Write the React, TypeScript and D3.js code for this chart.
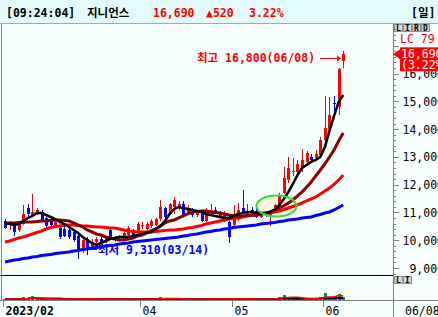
import React from "react";
import * as d3 from "d3";

// ---- data ----
const dates = [
  "02/17","02/20","02/21","02/22","02/23","02/24","02/27","02/28",
  "03/02","03/03","03/06","03/07","03/08","03/09","03/10","03/13","03/14","03/15","03/16","03/17",
  "03/20","03/21","03/22","03/23","03/24","03/27","03/28","03/29","03/30","03/31",
  "04/03","04/04","04/05","04/06","04/07","04/10","04/11","04/12","04/13","04/14",
  "04/17","04/18","04/19","04/20","04/21","04/24","04/25","04/26","04/27","04/28",
  "05/02","05/03","05/04","05/08","05/09","05/10","05/11","05/12","05/15","05/16",
  "05/17","05/18","05/19","05/22","05/23","05/24","05/25","05/26","05/30","05/31",
  "06/01","06/02","06/05","06/07","06/08",
];
const opens = [
  10700,10550,10600,10350,10600,11150,10900,10950,11000,10800,
  10700,10550,10450,10400,10350,10300,10150,9600,10050,9700,
  9950,10050,9950,10350,10050,10100,10050,10200,10350,10300,
  10500,10400,10500,10550,10750,11150,10950,11200,11150,11300,
  10950,11100,10900,11050,10700,10950,11100,10850,10700,10650,
  10550,10750,11150,10950,11100,11050,10850,10950,10900,11100,
  11200,11700,12150,12450,12450,12600,12800,13000,12950,13050,
  13600,14000,14950,14800,16450,
];
const highs = [
  10750,10700,10650,10650,11250,11300,11650,11150,11100,10850,
  10800,10700,10550,10500,10450,10350,10250,10050,10100,10050,
  10100,10150,10150,10400,10150,10200,10300,10500,10400,10650,
  10650,10650,10750,10800,11450,11200,11350,11550,11400,11400,
  11250,11150,11050,11100,11150,11300,11200,11050,11050,10700,
  11250,11350,11800,11300,11200,11150,11000,11050,11100,11300,
  11700,12650,13000,12950,12900,13300,13200,13100,13250,13700,
  15200,15150,15200,16200,16800,
];
const lows = [
  10400,10350,10150,10300,10550,10850,10850,10900,10650,10450,
  10500,10450,10050,10100,10050,9950,9310,9550,9450,9650,
  9900,9900,9900,10050,9950,10000,10000,10150,10150,10250,
  10400,10350,10450,10500,10700,10800,10900,10950,11100,10850,
  10900,10850,10850,10650,10650,10900,10950,10800,10650,9900,
  10450,10700,10950,10900,10850,10800,10800,10850,10500,11000,
  11100,11650,12050,12300,12350,12450,12700,12850,12850,12950,
  13500,13900,14550,14500,16200,
];
const closes = [
  10450,10650,10300,10600,10950,10950,11000,11100,10700,10500,
  10550,10650,10100,10150,10100,10000,9650,10000,9700,9950,
  10050,9950,10100,10100,10100,10150,10250,10450,10200,10600,
  10550,10600,10700,10750,11200,10850,11300,11450,11300,10900,
  11150,10900,11000,10700,11000,11100,11000,11000,10950,10100,
  10900,11100,11000,11050,10900,10850,10950,10900,11000,11250,
  11600,12250,12600,12500,12750,12900,13150,12900,13100,13600,
  14050,14500,14900,16170,16690,
];
const volumes = [
  45,40,35,40,125,60,165,50,40,35,
  40,35,45,40,35,45,85,50,40,35,
  40,35,40,35,40,35,40,45,35,40,
  35,40,45,40,125,60,45,40,35,40,
  35,40,35,40,45,85,40,35,40,50,
  85,45,40,35,40,35,40,45,50,70,
  125,210,90,70,60,55,50,45,60,125,
  290,110,90,250,125,
];
// moving averages (5, 20, 60, 120 days)
const ma5 = [
  10620,10584,10548,10584,10692,10800,10872,10980,10980,10908,
  10836,10764,10656,10584,10476,10368,10260,10116,10008,9900,
  9828,9900,9972,10044,10080,10116,10116,10116,10152,10188,
  10224,10260,10296,10404,10512,10692,10944,11124,11196,11160,
  11124,11088,11052,11016,10944,10908,10872,10836,10800,10800,
  10872,10944,10980,11016,11016,10980,10980,10980,11016,11088,
  11268,11484,11736,12024,12348,12600,12708,12816,12888,12996,
  13356,13932,14472,14976,15228,
];
const ma20 = [
  10620,10620,10620,10638,10656,10656,10656,10674,10692,10692,
  10710,10728,10728,10710,10692,10620,10548,10476,10368,10296,
  10224,10188,10116,10080,10044,10008,10008,10044,10080,10152,
  10188,10260,10332,10404,10512,10620,10692,10728,10800,10872,
  10944,11016,11034,11052,11052,11016,10998,10980,10944,10908,
  10872,10872,10872,10890,10908,10908,10944,10980,11016,11088,
  11160,11232,11340,11448,11592,11736,11916,12096,12312,12528,
  12744,12996,13248,13572,13860,
];
const ma60 = [
  9936,9972,10026,10080,10116,10170,10224,10278,10332,10404,
  10458,10494,10512,10548,10548,10548,10530,10512,10512,10494,
  10476,10476,10458,10440,10440,10404,10368,10332,10314,10296,
  10296,10296,10296,10314,10332,10350,10368,10368,10386,10404,
  10440,10458,10494,10530,10584,10620,10656,10692,10728,10764,
  10782,10800,10836,10872,10890,10908,10944,10962,10980,11016,
  11052,11106,11160,11214,11268,11340,11412,11484,11556,11664,
  11772,11880,12006,12168,12348,
];
const ma120 = [
  9216,9252,9288,9306,9342,9360,9396,9414,9450,9468,
  9486,9522,9540,9558,9576,9612,9630,9666,9684,9720,
  9738,9756,9792,9810,9828,9864,9882,9900,9936,9954,
  9972,9990,10008,10026,10044,10062,10080,10098,10116,10152,
  10170,10206,10224,10260,10296,10314,10350,10368,10404,10422,
  10458,10476,10494,10512,10530,10548,10584,10602,10620,10638,
  10674,10692,10728,10746,10764,10800,10818,10836,10890,10926,
  10980,11016,11088,11178,11268,
];
const priceLabels = [9000, 10000, 11000, 12000, 13000, 14000, 15000, 16000];
const tickDates = ["02/17", "04/03", "05/02", "06/01"];
const tickLabels = ["2023/02", "04", "05", "06"];

const W = 438;
const H = 317;
const FONT = "'DejaVu Sans Mono','Noto Sans CJK KR',monospace";

function sma(arr: number[], n: number) {
  return arr.map((_, i) => {
    const s = Math.max(0, i - n + 1);
    const w = arr.slice(s, i + 1);
    return d3.mean(w) as number;
  });
}

export default function App() {
  const x = d3.scaleLinear().domain([0, dates.length - 1]).range([5, 343.2]);
  const y = d3.scaleLinear().domain([9000, 16000]).range([268, 73.5]);
  const yv = d3.scaleLinear().domain([0, 1000]).range([300, 276]);
  const px = (i: number) => Math.round(x(i));

  const mkLine = (arr: number[], sy: (v: number) => number) =>
    d3
      .line<number>()
      .x((_, i) => x(i))
      .y((d) => sy(d))(arr) as string;

  const minorTicks = d3.range(8800, 17800, 200).filter((v) => y(v) > 25 && y(v) < 275);

  const hiIdx = d3.maxIndex(highs);
  const loIdx = d3.minIndex(lows);
  const last = closes.length - 1;
  const change = closes[last] - closes[last - 1];
  const pct = (change / closes[last - 1]) * 100;
  const fmt = d3.format(",");

  const volMa5 = sma(volumes, 5);
  const volMa20 = sma(volumes, 20);
  const volMa60 = sma(volumes, 60);

  return (
    <svg
      width={W}
      height={H}
      style={{ position: "absolute", left: 0, top: 0, display: "block" }}
      fontFamily={FONT}
    >
      <defs>
        <clipPath id="plot">
          <rect x={2} y={24} width={391} height={251} />
        </clipPath>
        <clipPath id="vol">
          <rect x={2} y={276} width={391} height={24} />
        </clipPath>
        <clipPath id="axisR">
          <rect x={394} y={24} width={44} height={293} />
        </clipPath>
      </defs>
      {/* backgrounds */}
      <rect x={0} y={0} width={W} height={H} fill="#f6fefe" />
      <rect x={0} y={0} width={W} height={23} fill="#e2fafa" />
      <line x1={0} x2={W} y1={23.5} y2={23.5} stroke="#a8a8a8" />

      {/* header */}
      <g fontWeight="bold" fontSize={11.5}>
        <text x={6} y={17} fill="#000">[09:24:04]</text>
        <text x={87} y={17} fill="#000">지니언스</text>
        <text x={153} y={17} fill="#ff0000">{fmt(closes[last])}</text>
        <text x={206} y={17} fill="#ff0000">{"▲" + change}</text>
        <text x={249} y={17} fill="#ff0000">{pct.toFixed(2) + "%"}</text>
        <text x={411} y={17} fill="#000">[일]</text>
      </g>

      {/* frame lines */}
      <line x1={1.5} x2={1.5} y1={24} y2={300} stroke="#808080" />
      <line x1={393.5} x2={393.5} y1={24} y2={H} stroke="#808080" />
      <line x1={0} x2={393} y1={275.5} y2={275.5} stroke="#000" />
      <line x1={0} x2={W} y1={300.5} y2={300.5} stroke="#808080" />

      {/* top-right buttons */}
      {["L", "I", "R", "D"].map((b, k) => (
        <g key={b}>
          <rect x={394.5 + k * 9} y={24.5} width={8} height={7} fill="#d4d4d4" stroke="#909090" />
          <text x={398.5 + k * 9} y={31} fontSize={8} fontWeight="bold" textAnchor="middle" fill="#000">
            {b}
          </text>
        </g>
      ))}
      {["L", "I"].map((b, k) => (
        <g key={"v" + b}>
          <rect x={394.5 + k * 9} y={276.5} width={8} height={7} fill="#d4d4d4" stroke="#909090" />
          <text x={398.5 + k * 9} y={283} fontSize={8} fontWeight="bold" textAnchor="middle" fill="#000">
            {b}
          </text>
        </g>
      ))}

      {/* price axis */}
      <g clipPath="url(#axisR)">
        {minorTicks.map((v) => (
          <line
            key={v}
            x1={393}
            x2={v % 1000 === 0 ? 399 : 396}
            y1={Math.round(y(v)) + 0.5}
            y2={Math.round(y(v)) + 0.5}
            stroke="#808080"
          />
        ))}
        {priceLabels.map((v) => (
          <text key={v} x={444} y={y(v) + 4.5} fontSize={11.5} textAnchor="end" fill="#000">
            {fmt(v)}
          </text>
        ))}
        <text x={400} y={43} fontSize={11.5} fill="#ff0000">LC  79</text>
        {/* current price tag */}
        <path
          d={`M393,${y(closes[last])} L400,${y(closes[last]) - 5} L400,${y(closes[last]) + 5} Z`}
          fill="#ff0000"
        />
        <rect x={400} y={y(closes[last]) - 7} width={40} height={24} fill="#ff0000" />
        <text x={401} y={y(closes[last]) + 4} fontSize={11.5} fill="#fff">
          {fmt(closes[last])}
        </text>
        <text x={401} y={y(closes[last]) + 15} fontSize={11.5} fill="#fff">
          {"(" + pct.toFixed(2) + "%)"}
        </text>
      </g>

      {/* date axis */}
      {tickDates.map((d, k) => {
        const i = dates.indexOf(d);
        const tx = Math.round(x(i)) - 1.5;
        return (
          <g key={d}>
            <line x1={tx} x2={tx} y1={300} y2={307} stroke="#808080" />
            <text
              x={tx + 2}
              y={315}
              fontSize={11.5}
              fontWeight={k === 0 ? "bold" : "normal"}
              fill="#000"
            >
              {tickLabels[k]}
            </text>
          </g>
        );
      })}
      <text x={405} y={315} fontSize={11.5} fill="#000">{dates[last]}</text>

      {/* main plot */}
      <g clipPath="url(#plot)">
        <ellipse cx={276.5} cy={206} rx={20} ry={10.5} fill="#fdf6e0" />
        {/* low annotation */}
        <line x1={x(loIdx) + 2} x2={97} y1={249.5} y2={249.5} stroke="#0000ff" />
        <text x={98} y={254} fontSize={11.5} fontWeight="bold" fill="#0000ff">
          {"최저 " + fmt(lows[loIdx]) + "(" + dates[loIdx] + ")"}
        </text>
        {/* high annotation */}
        <text x={197} y={62} fontSize={11.5} fontWeight="bold" fill="#ff0000">
          {"최고 " + fmt(highs[hiIdx]) + "(" + dates[hiIdx] + ")"}
        </text>
        <line x1={320} x2={x(hiIdx) - 3} y1={58.5} y2={58.5} stroke="#ff0000" />
        <path
          d={`M${x(hiIdx) - 2},58.5 L${x(hiIdx) - 6},55.5 L${x(hiIdx) - 6},61.5 Z`}
          fill="#ff0000"
        />

        {/* candles */}
        {dates.map((d, i) => {
          const up = closes[i] >= opens[i];
          const col = up ? "#ff0000" : "#0000ff";
          const cx = px(i);
          const top = Math.round(y(Math.max(opens[i], closes[i])));
          const bot = Math.round(y(Math.min(opens[i], closes[i])));
          return (
            <g key={d}>
              <line
                x1={cx + 0.5}
                x2={cx + 0.5}
                y1={Math.round(y(highs[i]))}
                y2={Math.round(y(lows[i]))}
                stroke={col}
              />
              <rect x={cx - 1} y={top} width={3} height={Math.max(1, bot - top)} fill={col} />
            </g>
          );
        })}

        {/* moving averages */}
        <path d={mkLine(ma120, y)} fill="none" stroke="#0000ff" strokeWidth={3} />
        <path d={mkLine(ma60, y)} fill="none" stroke="#ff0000" strokeWidth={3} />
        <path d={mkLine(ma20, y)} fill="none" stroke="#8b0000" strokeWidth={3} />
        <path d={mkLine(ma5, y)} fill="none" stroke="#000" strokeWidth={2.5} />

        <ellipse cx={276.5} cy={206} rx={20} ry={10.5} fill="none" stroke="#33dd33" strokeWidth={2} />
      </g>

      {/* volume */}
      <g clipPath="url(#vol)">
        <line x1={3} x2={x(last) + 2} y1={299.5} y2={299.5} stroke="#339999" strokeDasharray="2,2" />
        {volumes.map((v, i) => {
          const top = Math.round(yv(v));
          return (
            <rect key={i} x={px(i) - 1} y={top} width={3} height={Math.max(1, 300 - top)} fill="#00a000" />
          );
        })}
        <path d={mkLine(volMa60, yv)} fill="none" stroke="#0000ff" strokeWidth={1.5} />
        <path d={mkLine(volMa20, yv)} fill="none" stroke="#000" strokeWidth={1.5} />
        <path d={mkLine(volMa5, yv)} fill="none" stroke="#ff0000" strokeWidth={1.5} />
      </g>
    </svg>
  );
}
